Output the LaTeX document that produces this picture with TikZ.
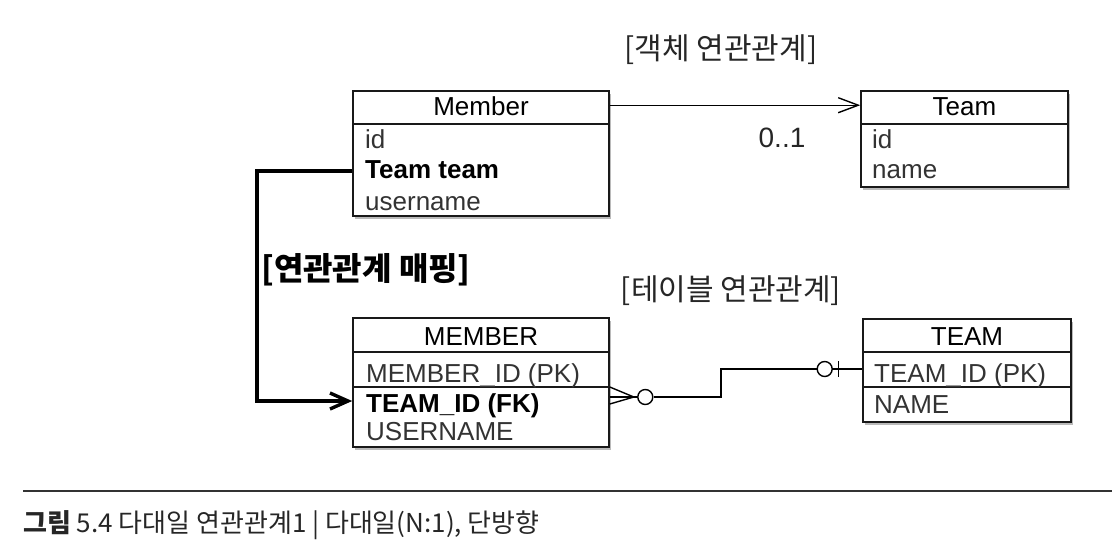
\documentclass[tikz,border=0pt]{standalone}
\usepackage{fontspec}
\setmainfont{Liberation Sans}
\newfontfamily\kr{Noto Sans CJK KR}
\usetikzlibrary{arrows.meta,shadows}
\begin{document}
\begin{tikzpicture}[x=1pt,y=-1pt,
  tbl/.style={draw=black!90, line width=1.6pt, fill=white, inner sep=0pt,
    drop shadow={shadow xshift=1.5pt, shadow yshift=-2.5pt, opacity=0.45, fill=black!60}},
  sep/.style={draw=black!90, line width=1.5pt},
  hdr/.style={font=\fontsize{26}{30}\selectfont, text=black, inner sep=0pt, anchor=base},
  rowt/.style={font=\fontsize{26}{30}\selectfont, text=black!80, inner sep=0pt, anchor=base west},
  rowb/.style={font=\fontsize{26}{30}\selectfont\bfseries, text=black, inner sep=0pt, anchor=base west},
  conn/.style={draw=black, line width=1.4pt},
  boldconn/.style={draw=black, line width=3.4pt},
  circ/.style={circle, draw=black, line width=1.4pt, fill=white, minimum size=15pt, inner sep=0pt},
  title/.style={font=\kr\fontsize{30}{34}\selectfont, text=black!85, inner sep=0pt},
]
\useasboundingbox (0,0) rectangle (1112,550);

% ---- object model ----
\node[tbl, minimum width=256pt, minimum height=125pt] (memberO) at (481,153.5) {};
\draw[sep] ([yshift=-34pt]memberO.north west) -- ([yshift=-34pt]memberO.north east);
\node[hdr] (memberOh) at (481,115) {Member};
\node[rowt] (memberO1) at (365,148) {id};
\node[rowb] (memberO2) at (365,178) {Team team};
\node[rowt] (memberO3) at (365,210) {username};

\node[tbl, minimum width=207pt, minimum height=96pt] (teamO) at (964.5,139) {};
\draw[sep] ([yshift=-34pt]teamO.north west) -- ([yshift=-34pt]teamO.north east);
\node[hdr] (teamOh) at (964.5,115) {Team};
\node[rowt] (teamO1) at (872,148) {id};
\node[rowt] (teamO2) at (872,178) {name};

% ---- table model ----
\node[tbl, minimum width=256pt, minimum height=129pt] (memberT) at (481,382.5) {};
\draw[sep] ([yshift=-35pt]memberT.north west) -- ([yshift=-35pt]memberT.north east);
\draw[sep] ([yshift=-70pt]memberT.north west) -- ([yshift=-70pt]memberT.north east);
\node[hdr] (memberTh) at (481,345) {MEMBER};
\node[rowt] (memberT1) at (366,382) {MEMBER\_ID (PK)};
\node[rowb] (memberT2) at (366,412) {TEAM\_ID (FK)};
\node[rowt] (memberT3) at (366,440) {USERNAME};

\node[tbl, minimum width=208pt, minimum height=103pt] (teamT) at (967,370.5) {};
\draw[sep] ([yshift=-34pt]teamT.north west) -- ([yshift=-34pt]teamT.north east);
\draw[sep] ([yshift=-69pt]teamT.north west) -- ([yshift=-69pt]teamT.north east);
\node[hdr] (teamTh) at (967,345) {TEAM};
\node[rowt] (teamT1) at (874,382) {TEAM\_ID (PK)};
\node[rowt] (teamT2) at (874,413) {NAME};

% ---- titles ----
\node[title] (t1) at (721,50) {[객체 연관관계]};
\node[title] (t2) at (731,291) {[테이블 연관관계]};
\node[title, font=\kr\bfseries\fontsize{32}{36}\selectfont, text=black] (t3) at (366,270) {[연관관계 매핑]};
\node[font=\fontsize{28}{32}\selectfont, text=black!85, inner sep=0pt, anchor=base] (mult) at (782,147) {0..1};

% ---- object association ----
\draw[conn, -{Straight Barb[length=20pt, width=15pt, line width=1.4pt]}]
  ([yshift=-15pt]memberO.north east) -- ([yshift=-15pt]teamO.north west);

% ---- mapping arrow ----
\coordinate (bendTop) at (257,171);
\coordinate (bendBot) at (257,401);
\draw[boldconn, line join=miter, -{Straight Barb[length=18pt, width=16pt, line width=3.4pt]}]
  ([yshift=-17.5pt]memberO.west) -- (bendTop) -- (bendBot) -- ([yshift=-18.5pt]memberT.west);

% ---- table relation (crow's foot) ----
\coordinate (cfTip) at ([xshift=24pt,yshift=-14.5pt]memberT.east);
\node[circ] (c1) at ([xshift=35.5pt,yshift=-14.5pt]memberT.east) {};
\draw[conn] ([yshift=-4.5pt]memberT.east) -- (cfTip);
\draw[conn] ([yshift=-14.5pt]memberT.east) -- (cfTip);
\draw[conn] ([yshift=-21.5pt]memberT.east) -- (cfTip);
\draw[conn] (cfTip) -- (c1);
\coordinate (jog) at (721,397);
\node[circ] (c2) at ([xshift=-37.5pt,yshift=1.5pt]teamT.west) {};
\draw[conn] (c1) -- (jog) |- (c2);
\draw[conn] (c2) -- ([yshift=1.5pt]teamT.west);
\draw[conn] ([xshift=-24pt,yshift=9.5pt]teamT.west) -- ([xshift=-24pt,yshift=-6.5pt]teamT.west);

% ---- caption ----
\coordinate (ruleL) at (23,491);
\coordinate (ruleR) at (1112,491);
\draw[line width=1.8pt, draw=black!80] (ruleL) -- (ruleR);
\node[font=\kr\fontsize{26}{30}\selectfont, text=black!85, inner sep=0pt, anchor=west] (cap) at (23,525)
  {{\bfseries 그림} 5.4 다대일 연관관계1 | 다대일(N:1), 단방향};
\end{tikzpicture}
\end{document}
